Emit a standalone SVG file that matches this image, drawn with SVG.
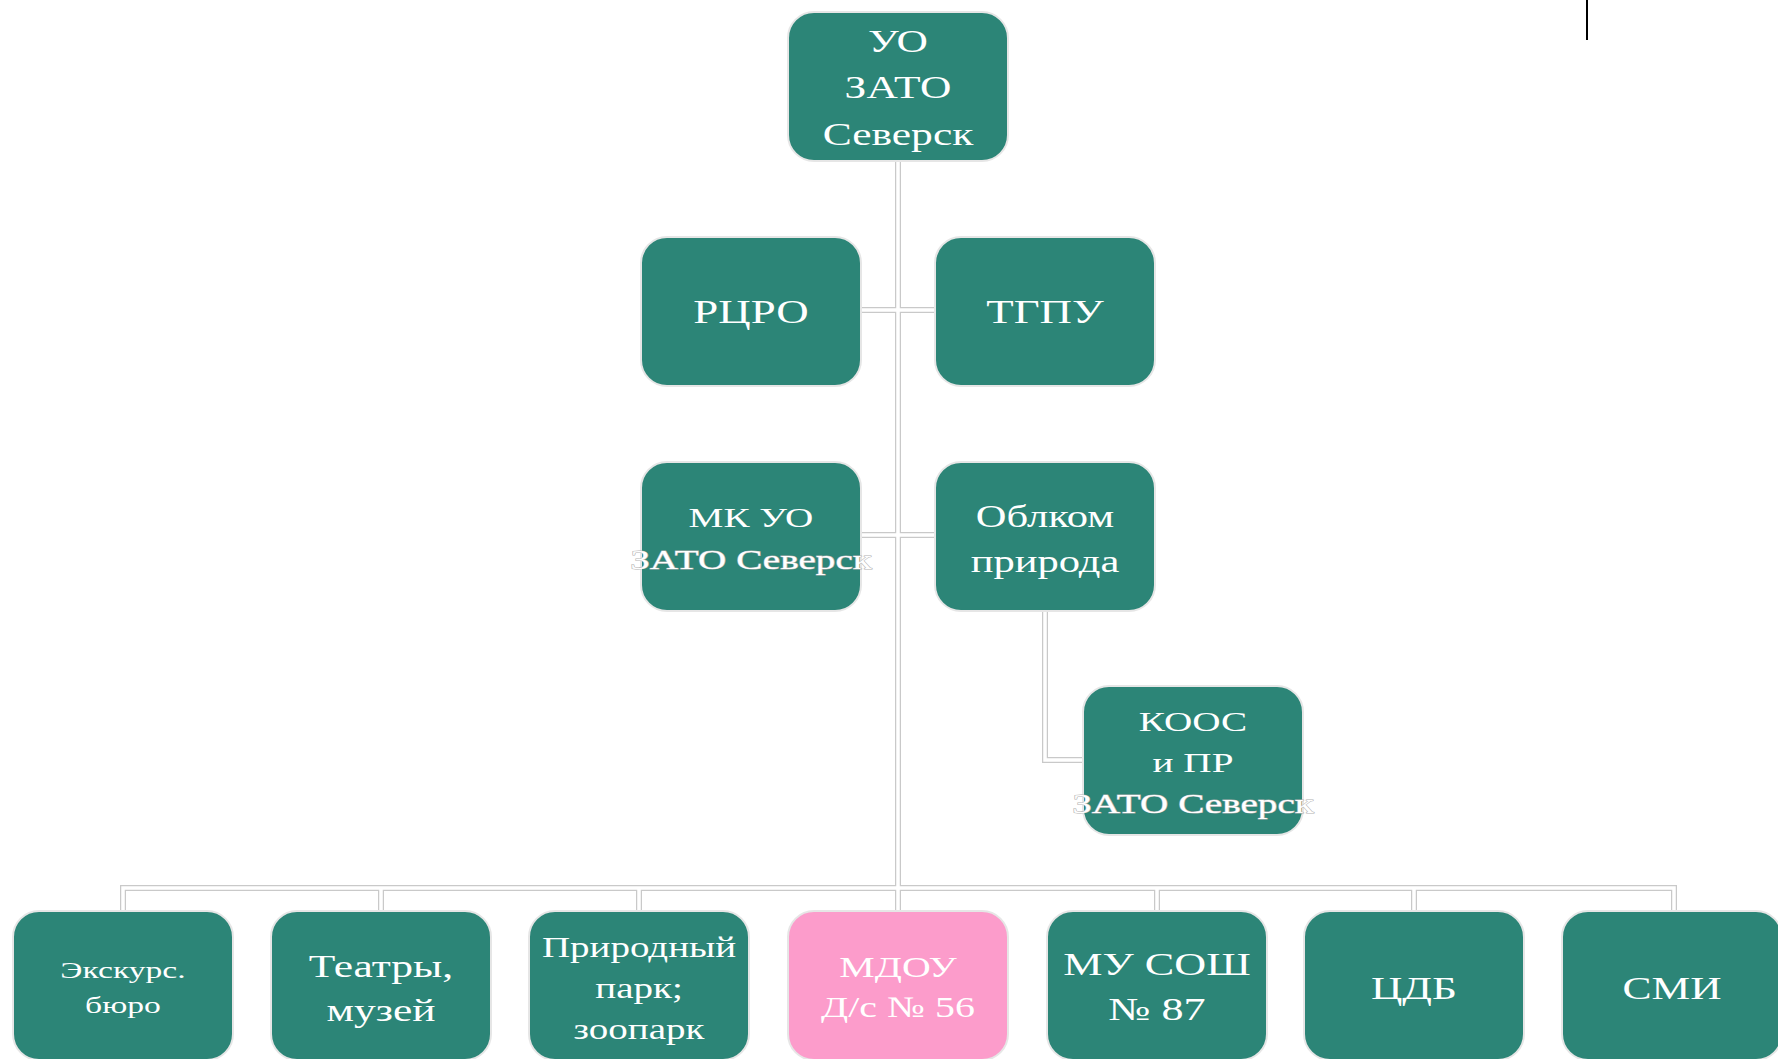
<svg xmlns="http://www.w3.org/2000/svg" width="1778" height="1059" viewBox="0 0 1778 1059">
<style>
.box{fill:#2c8577;stroke:#e6e6e6;stroke-width:2}
.pink{fill:#fc9ccb;stroke:#e6e6e6;stroke-width:2}
.t{font-family:"Liberation Serif","Times New Roman",serif;fill:#ffffff;text-anchor:middle}
.o{stroke:#b4b4b4;stroke-width:1;paint-order:stroke}
.cg{fill:none;stroke:#c9c9c9;stroke-width:6}
.cw{fill:none;stroke:#ffffff;stroke-width:3.5}
</style>
<rect width="1778" height="1059" fill="#ffffff"/>
<g id="connectors">
<g class="cg">
<path d="M898 162V911"/>
<path d="M123 911V888H1674V911"/>
<path d="M381 888V911M639 888V911M1157 888V911M1414 888V911"/>
<path d="M861 310H935M861 535H935"/>
<path d="M1045 611V760H1083"/>
</g>
<g class="cw">
<path d="M898 162V911"/>
<path d="M123 911V888H1674V911"/>
<path d="M381 888V911M639 888V911M1157 888V911M1414 888V911"/>
<path d="M861 310H935M861 535H935"/>
<path d="M1045 611V760H1083"/>
</g>
</g>
<g id="n-uo">
<rect class="box" x="788" y="12" width="220" height="149" rx="26"/>
<g transform="translate(898 0) scale(1.36 1)"><text class="t" font-size="32"><tspan x="0" y="52">УО</tspan><tspan x="0" y="98">ЗАТО</tspan><tspan x="0" y="145">Северск</tspan></text></g>
</g>
<g id="n-rcro">
<rect class="box" x="641" y="237" width="220" height="149" rx="26"/>
<g transform="translate(751 0) scale(1.36 1)"><text class="t" font-size="33" x="0" y="323">РЦРО</text></g>
</g>
<g id="n-tgpu">
<rect class="box" x="935" y="237" width="220" height="149" rx="26"/>
<g transform="translate(1045 0) scale(1.36 1)"><text class="t" font-size="33" x="0" y="323">ТГПУ</text></g>
</g>
<g id="n-mkuo">
<rect class="box" x="641" y="462" width="220" height="149" rx="26"/>
<g transform="translate(751 0) scale(1.4 1)"><text class="t" font-size="28"><tspan x="0" y="527">МК УО</tspan><tspan class="o" x="0" y="569">ЗАТО Северск</tspan></text></g>
</g>
<g id="n-oblkom">
<rect class="box" x="935" y="462" width="220" height="149" rx="26"/>
<g transform="translate(1045 0) scale(1.33 1)"><text class="t" font-size="32"><tspan x="0" y="527">Облком</tspan><tspan x="0" y="572">природа</tspan></text></g>
</g>
<g id="n-koos">
<rect class="box" x="1083" y="686" width="220" height="149" rx="26"/>
<g transform="translate(1193 0) scale(1.4 1)"><text class="t" font-size="28"><tspan x="0" y="731">КООС</tspan><tspan x="0" y="772">и ПР</tspan><tspan class="o" x="0" y="813">ЗАТО Северск</tspan></text></g>
</g>
<g id="n-ekskurs">
<rect class="box" x="13" y="911" width="220" height="149" rx="26"/>
<g transform="translate(123 0) scale(1.4 1)"><text class="t" font-size="24"><tspan x="0" y="978">Экскурс.</tspan><tspan x="0" y="1013">бюро</tspan></text></g>
</g>
<g id="n-teatry">
<rect class="box" x="271" y="911" width="220" height="149" rx="26"/>
<g transform="translate(381 0) scale(1.36 1)"><text class="t" font-size="32"><tspan x="0" y="977">Театры,</tspan><tspan x="0" y="1021">музей</tspan></text></g>
</g>
<g id="n-park">
<rect class="box" x="529" y="911" width="220" height="149" rx="26"/>
<g transform="translate(639 0) scale(1.3 1)"><text class="t" font-size="30"><tspan x="0" y="957">Природный</tspan><tspan x="0" y="998">парк;</tspan><tspan x="0" y="1039">зоопарк</tspan></text></g>
</g>
<g id="n-mdou">
<rect class="pink" x="788" y="911" width="220" height="149" rx="26"/>
<g transform="translate(898 0) scale(1.33 1)"><text class="t" font-size="30" fill="#fdeef5"><tspan x="0" y="977">МДОУ</tspan><tspan x="0" y="1017">Д/с № 56</tspan></text></g>
</g>
<g id="n-sosh">
<rect class="box" x="1047" y="911" width="220" height="149" rx="26"/>
<g transform="translate(1157 0) scale(1.38 1)"><text class="t" font-size="32"><tspan x="0" y="975">МУ СОШ</tspan><tspan x="0" y="1020">№ 87</tspan></text></g>
</g>
<g id="n-cdb">
<rect class="box" x="1304" y="911" width="220" height="149" rx="26"/>
<g transform="translate(1414 0) scale(1.36 1)"><text class="t" font-size="32" x="0" y="999">ЦДБ</text></g>
</g>
<g id="n-smi">
<rect class="box" x="1562" y="911" width="220" height="149" rx="26"/>
<g transform="translate(1672 0) scale(1.36 1)"><text class="t" font-size="32" x="0" y="999">СМИ</text></g>
</g>
<line x1="1587" y1="0" x2="1587" y2="40" stroke="#000" stroke-width="2"/>
</svg>
